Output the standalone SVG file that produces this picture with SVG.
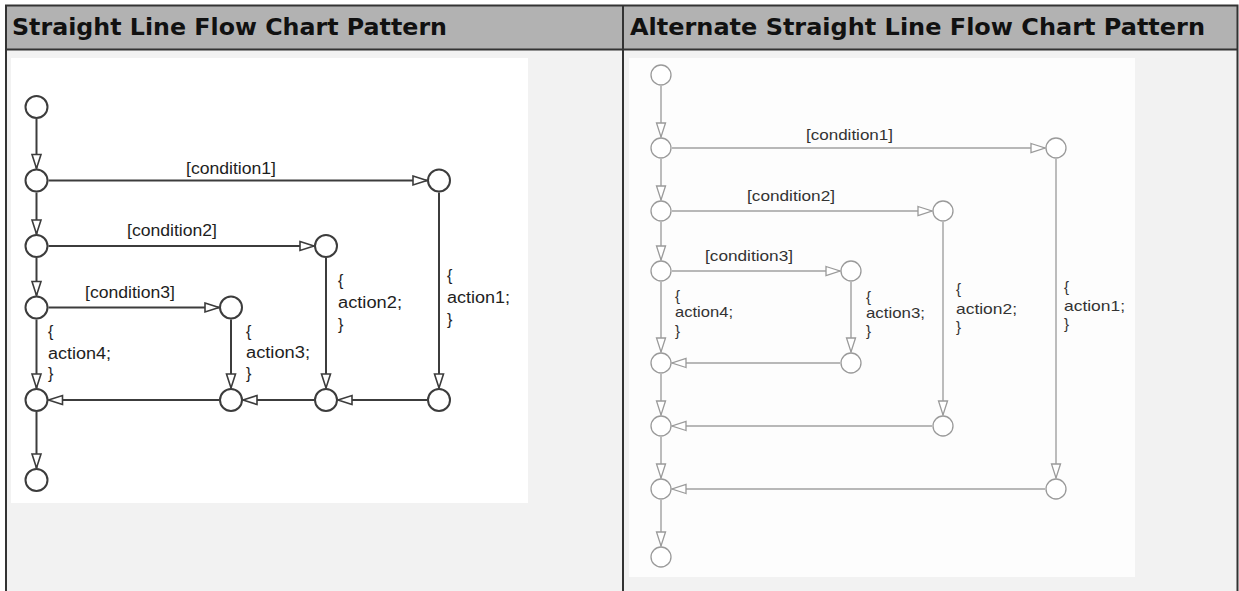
<svg xmlns="http://www.w3.org/2000/svg" width="1239" height="591" viewBox="0 0 1239 591">
<style>
.hdr{font-family:"DejaVu Sans",Verdana,sans-serif;font-weight:bold;font-size:23.5px;fill:#111}
.tl{font-family:"Liberation Sans",Arial,sans-serif;font-size:16px;fill:#1e1e1e}
.tr{font-family:"Liberation Sans",Arial,sans-serif;font-size:15px;fill:#333}
.nl circle{fill:#fff;stroke:#3c3c3c;stroke-width:2}
.nr circle{fill:#fff;stroke:#9a9a9a;stroke-width:1.3}
.cl path{fill:none;stroke:#3c3c3c;stroke-width:2;marker-end:url(#aL)}
.cr path{fill:none;stroke:#a0a0a0;stroke-width:1.4;marker-end:url(#aR)}
</style>
<defs>
<marker id="aL" markerUnits="userSpaceOnUse" markerWidth="20" markerHeight="16" refX="15" refY="5.5" orient="auto" overflow="visible">
<path d="M1,1 L15,5.5 L1,10 Z" fill="#fff" stroke="#3c3c3c" stroke-width="1.6"/>
</marker>
<marker id="aR" markerUnits="userSpaceOnUse" markerWidth="20" markerHeight="16" refX="15" refY="5.5" orient="auto" overflow="visible">
<path d="M1,1 L15,5.5 L1,10 Z" fill="#fff" stroke="#9a9a9a" stroke-width="1.3"/>
</marker>
</defs>

<!-- table -->
<g id="table">
<rect x="6" y="5.5" width="1231" height="590" fill="#f2f2f2"/>
<rect x="6" y="5.5" width="1231" height="44" fill="#b2b2b2"/>
<rect x="11" y="58" width="517" height="445" fill="#fff"/>
<rect x="629" y="58" width="506" height="519" fill="#fdfdfd"/>
<path d="M6,600 V5.5 H1237.5 V600 M6,49.5 H1237.5 M623,5.5 V600" fill="none" stroke="#333" stroke-width="2"/>
<text class="hdr" x="12" y="35" textLength="435" lengthAdjust="spacingAndGlyphs">Straight Line Flow Chart Pattern</text>
<text class="hdr" x="630" y="35" textLength="575" lengthAdjust="spacingAndGlyphs">Alternate Straight Line Flow Chart Pattern</text>
</g>

<!-- left connectors -->
<g id="connectors-left" class="cl">
<path d="M36.5,119 V168.5"/>
<path d="M36.5,192.5 V234"/>
<path d="M36.5,258 V295.5"/>
<path d="M36.5,319.5 V388"/>
<path d="M36.5,412 V468"/>
<path d="M48.5,180.5 H427"/>
<path d="M439,192.5 V388"/>
<path d="M427,400 H338"/>
<path d="M48.5,246 H314"/>
<path d="M326,258 V388"/>
<path d="M314,400 H243"/>
<path d="M48.5,307.5 H219"/>
<path d="M231,319.5 V388"/>
<path d="M219,400 H48.5"/>
</g>

<!-- left nodes -->
<g class="nl">
<g id="L-start"><circle cx="36.5" cy="107" r="11"/></g>
<g id="L-c1"><circle cx="36.5" cy="180.5" r="11"/></g>
<g id="L-c2"><circle cx="36.5" cy="246" r="11"/></g>
<g id="L-c3"><circle cx="36.5" cy="307.5" r="11"/></g>
<g id="L-join"><circle cx="36.5" cy="400" r="11"/></g>
<g id="L-end"><circle cx="36.5" cy="480" r="11"/></g>
<g id="L-c1t"><circle cx="439" cy="180.5" r="11"/></g>
<g id="L-c2t"><circle cx="326" cy="246" r="11"/></g>
<g id="L-c3t"><circle cx="231" cy="307.5" r="11"/></g>
<g id="L-b1"><circle cx="439" cy="400" r="11"/></g>
<g id="L-b2"><circle cx="326" cy="400" r="11"/></g>
<g id="L-b3"><circle cx="231" cy="400" r="11"/></g>
</g>

<!-- left labels -->
<g id="labels-left" class="tl">
<text x="186" y="174" textLength="90" lengthAdjust="spacingAndGlyphs">[condition1]</text>
<text x="127" y="236" textLength="90" lengthAdjust="spacingAndGlyphs">[condition2]</text>
<text x="85" y="298" textLength="90" lengthAdjust="spacingAndGlyphs">[condition3]</text>
<text x="48" y="337">{</text>
<text x="48" y="358.5" textLength="63" lengthAdjust="spacingAndGlyphs">action4;</text>
<text x="48" y="379">}</text>
<text x="246" y="337">{</text>
<text x="246" y="358" textLength="64" lengthAdjust="spacingAndGlyphs">action3;</text>
<text x="246" y="379">}</text>
<text x="338" y="286">{</text>
<text x="338" y="308" textLength="64" lengthAdjust="spacingAndGlyphs">action2;</text>
<text x="338" y="330">}</text>
<text x="447" y="281">{</text>
<text x="447" y="303" textLength="63" lengthAdjust="spacingAndGlyphs">action1;</text>
<text x="447" y="325">}</text>
</g>

<!-- right connectors -->
<g id="connectors-right" class="cr">
<path d="M661,86 V137"/>
<path d="M661,159 V200"/>
<path d="M661,222 V260"/>
<path d="M661,282 V352"/>
<path d="M661,374 V415"/>
<path d="M661,437 V478"/>
<path d="M661,500 V546"/>
<path d="M672,148 H1045"/>
<path d="M1056,159 V478"/>
<path d="M1045,489 H672"/>
<path d="M672,211 H932"/>
<path d="M943,222 V415"/>
<path d="M932,426 H672"/>
<path d="M672,271 H840"/>
<path d="M851,282 V352"/>
<path d="M840,363 H672"/>
</g>

<!-- right nodes -->
<g class="nr">
<g id="R-start"><circle cx="661" cy="75" r="10"/></g>
<g id="R-c1"><circle cx="661" cy="148" r="10"/></g>
<g id="R-c2"><circle cx="661" cy="211" r="10"/></g>
<g id="R-c3"><circle cx="661" cy="271" r="10"/></g>
<g id="R-j3"><circle cx="661" cy="363" r="10"/></g>
<g id="R-j2"><circle cx="661" cy="426" r="10"/></g>
<g id="R-j1"><circle cx="661" cy="489" r="10"/></g>
<g id="R-end"><circle cx="661" cy="557" r="10"/></g>
<g id="R-c1t"><circle cx="1056" cy="148" r="10"/></g>
<g id="R-c2t"><circle cx="943" cy="211" r="10"/></g>
<g id="R-c3t"><circle cx="851" cy="271" r="10"/></g>
<g id="R-b3"><circle cx="851" cy="363" r="10"/></g>
<g id="R-b2"><circle cx="943" cy="426" r="10"/></g>
<g id="R-b1"><circle cx="1056" cy="489" r="10"/></g>
</g>

<!-- right labels -->
<g id="labels-right" class="tr">
<text x="806" y="140" textLength="87" lengthAdjust="spacingAndGlyphs">[condition1]</text>
<text x="747" y="201" textLength="88" lengthAdjust="spacingAndGlyphs">[condition2]</text>
<text x="705" y="261" textLength="88" lengthAdjust="spacingAndGlyphs">[condition3]</text>
<text x="675" y="300.5">{</text>
<text x="675" y="317" textLength="58" lengthAdjust="spacingAndGlyphs">action4;</text>
<text x="675" y="335.5">}</text>
<text x="866" y="302">{</text>
<text x="866" y="317.5" textLength="59" lengthAdjust="spacingAndGlyphs">action3;</text>
<text x="866" y="336">}</text>
<text x="956" y="294">{</text>
<text x="956" y="314" textLength="61" lengthAdjust="spacingAndGlyphs">action2;</text>
<text x="956" y="332">}</text>
<text x="1064" y="292">{</text>
<text x="1064" y="310.5" textLength="61" lengthAdjust="spacingAndGlyphs">action1;</text>
<text x="1064" y="329">}</text>
</g>
</svg>
